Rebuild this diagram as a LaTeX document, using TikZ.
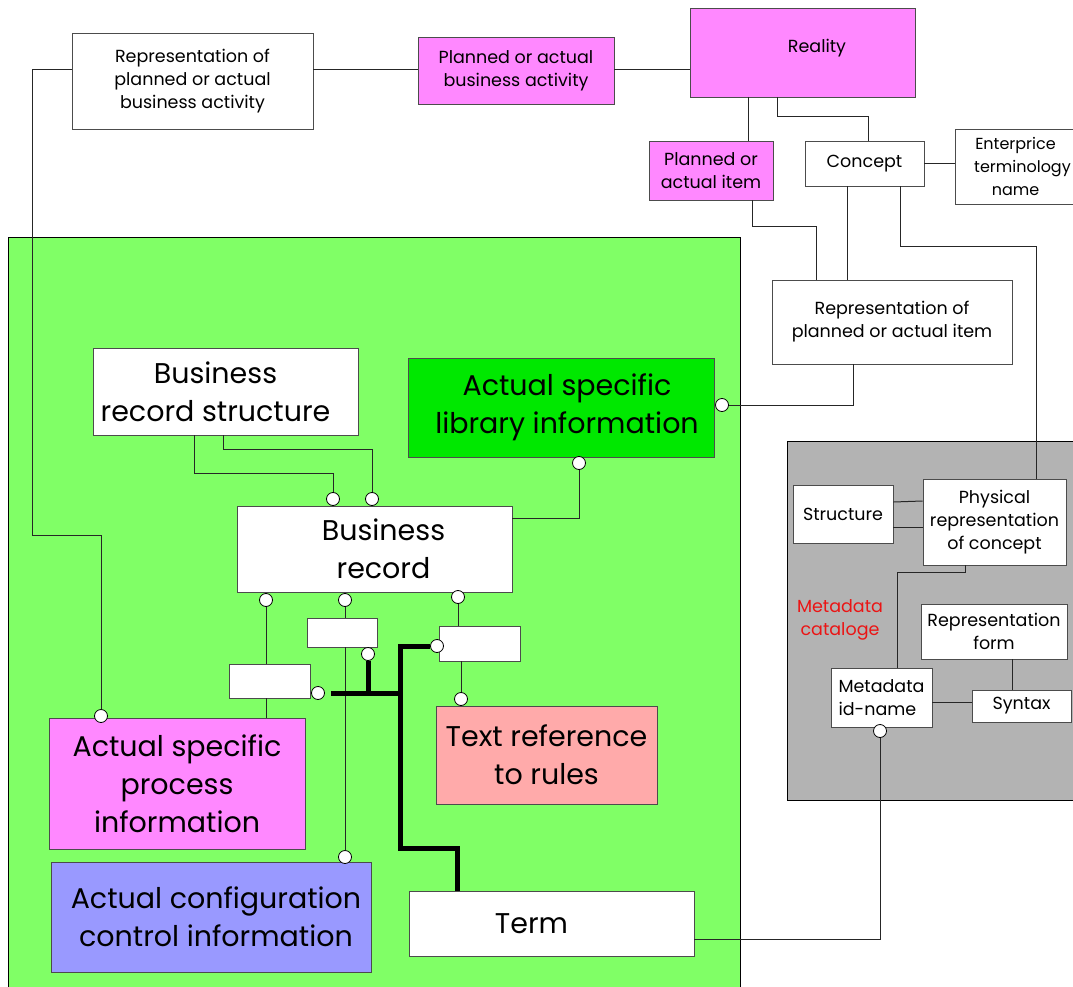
\documentclass[tikz,border=0pt]{standalone}
\usepackage{fontspec}
\setmainfont{Poppins}
\usetikzlibrary{calc}
\definecolor{magbox}{RGB}{255,136,255}
\definecolor{greenbg}{RGB}{128,255,102}
\definecolor{libgreen}{RGB}{0,232,0}
\definecolor{salmonbox}{RGB}{255,170,170}
\definecolor{bluebox}{RGB}{153,153,255}
\definecolor{graybg}{RGB}{179,179,179}
\definecolor{redtext}{RGB}{235,20,20}
\newcommand\smallf{\fontsize{17.5}{23}\selectfont}
\newcommand\bigf{\fontsize{28.5}{38}\selectfont}
\begin{document}
\begin{tikzpicture}[x=1pt,y=-1pt,
  box/.style={draw=black!70, line width=0.8pt, fill=white, inner sep=0pt, align=center, font=\smallf},
  bigbox/.style={box, font=\bigf},
  wire/.style={draw=black!85, line width=1pt},
  thickw/.style={draw=black, line width=5pt},
  dot/.style={circle, draw=black, fill=white, minimum size=13pt, inner sep=0pt, line width=0.8pt},
  region/.style={draw=black, line width=0.8pt}]
\useasboundingbox (0,0) rectangle (1073,987);
\fill[white] (0,0) rectangle (1073,987);
% regions
\path[region, fill=greenbg] (8,237) rectangle (740,1000);
\path[region, fill=graybg] (787,441) rectangle (1090,800);
% top nodes
\node[box, minimum width=241pt, minimum height=96pt] (rpb) at (192.5,81) {Representation of\\planned or actual\\business activity};
\node[box, fill=magbox, minimum width=196pt, minimum height=67pt] (pba) at (516,70.5) {Planned or actual\\business activity};
\node[box, fill=magbox, minimum width=225pt, minimum height=89pt] (reality) at (802.5,52.5) {};
\node[font=\smallf, inner sep=0pt] (realitytext) at (817,48) {Reality};
\node[box, fill=magbox, minimum width=124pt, minimum height=59pt] (pitem) at (711,170.5) {Planned or\\actual item};
\node[box, minimum width=119pt, minimum height=45pt] (concept) at (864.5,163.5) {Concept};
\node[box, minimum width=135pt, minimum height=75pt, font=\fontsize{16}{23}\selectfont] (etn) at (1022.5,166.5) {Enterprice\hspace*{14pt}\\terminology\hspace*{14pt}\\name\hspace*{14pt}};
\node[box, minimum width=240pt, minimum height=84pt] (rpi) at (892,322) {Representation of\\planned or actual item};
% green region nodes
\node[bigbox, minimum width=265pt, minimum height=87pt] (brs) at (225.5,391.5) {Business\hspace*{20pt}\\record structure\hspace*{20pt}};
\node[bigbox, fill=libgreen, minimum width=306pt, minimum height=99pt] (lib) at (561,407.5) {\hspace*{12pt}Actual specific\\\hspace*{12pt}library information};
\node[bigbox, minimum width=275pt, minimum height=86pt] (br) at (374.5,549) {\hspace*{18pt}Business\\\hspace*{18pt}record};
\node[box, minimum width=81pt, minimum height=34pt] (boxA) at (269.5,681) {};
\node[box, minimum width=70pt, minimum height=29pt] (boxB) at (342,632.5) {};
\node[box, minimum width=81pt, minimum height=35pt] (boxC) at (479.5,643.5) {};
\node[bigbox, fill=magbox, minimum width=256pt, minimum height=131pt] (proc) at (177,783.5) {Actual specific\\process\\information};
\node[bigbox, fill=salmonbox, minimum width=221pt, minimum height=98pt] (trr) at (546.5,755) {Text reference\\to rules};
\node[bigbox, fill=bluebox, minimum width=320pt, minimum height=110pt] (cfg) at (211,917) {\hspace*{10pt}Actual configuration\\\hspace*{10pt}control information};
\node[bigbox, minimum width=285pt, minimum height=65pt] (term) at (551.5,923.5) {\raisebox{-6pt}{Term}\hspace*{40pt}};
% gray region nodes
\node[box, minimum width=100pt, minimum height=58pt] (struct) at (843,514) {Structure};
\node[box, minimum width=143pt, minimum height=86pt] (phys) at (994.5,522) {Physical\\representation\\of concept};
\node[font=\smallf, text=redtext, align=center, inner sep=0pt] (mcat) at (840,620) {Metadata\\cataloge};
\node[box, minimum width=146pt, minimum height=55pt] (rform) at (994,631.5) {Representation\\form};
\node[box, align=left, minimum width=101pt, minimum height=59pt] (mid) at (881.5,697.5) {Metadata\\id-name};
\node[box, minimum width=99pt, minimum height=32pt] (syntax) at (1021.5,706) {Syntax};
% dots
\node[dot] (d1) at (333,499) {};
\node[dot] (d2) at (372,499) {};
\node[dot] (d3) at (579,463) {};
\node[dot] (d4) at (266,600) {};
\node[dot] (d5) at (345,600) {};
\node[dot] (d6) at (458,597) {};
\node[dot] (d7) at (368,654) {};
\node[dot] (d8) at (318,693) {};
\node[dot] (d9) at (437,646) {};
\node[dot] (d10) at (461,699) {};
\node[dot] (d11) at (345,857) {};
\node[dot] (d12) at (722,405) {};
\node[dot] (d13) at (101,716) {};
\node[dot] (d14) at (880,731) {};
% top connectors
\draw[wire] (rpb.east |- 0,70) -- (pba.west |- 0,70);
\draw[wire] (pba.east |- 0,70) -- (reality.west |- 0,70);
\draw[wire] (rpb.west |- 0,70) -- (32,70) -- (32,535) -| (d13.north);
\draw[wire] (748,0 |- reality.south) -- (748,0 |- pitem.north);
\draw[wire] (777,0 |- reality.south) -- (777,117) -| (868,0 |- concept.north);
\draw[wire] (concept.east) -- (concept.east -| etn.west);
\draw[wire] (752,0 |- pitem.south) -- (752,226) -| (816,0 |- rpi.north);
\draw[wire] (847,0 |- concept.south) -- (847,0 |- rpi.north);
\draw[wire] (900,0 |- concept.south) -- (900,246) -| (1036,0 |- phys.north);
\draw[wire] (853,0 |- rpi.south) |- (d12.east);
% green connectors
\draw[wire] (194,0 |- brs.south) -- (194,473) -| (d1.north);
\draw[wire] (223,0 |- brs.south) -- (223,449) -| (d2.north);
\draw[wire] (br.east |- 0,518) -| (d3.south);
\draw[wire] (d4.south) -- (d4.south |- boxA.north);
\draw[wire] (266,0 |- boxA.south) -- (266,0 |- proc.north);
\draw[wire] (d5.south) -- (d5.south |- boxB.north);
\draw[wire] (d11.north |- boxB.south) -- (d11.north);
\draw[wire] (d6.south) -- (d6.south |- boxC.north);
\draw[wire] (d10.north |- boxC.south) -- (d10.north);
\draw[thickw] ($(d8.east)+(6,0)$) -- (402,0 |- d8.east);
\draw[thickw] (d7.south) -- (d7.south |- d8.east);
\draw[thickw] (d9.west) -| (400,848) -| (457,0 |- term.north);
% gray connectors
\draw[wire] (term.east |- 0,939) -| (d14.south);
\draw[wire] (struct.east |- 0,502) -- (phys.west |- 0,501);
\draw[wire] (struct.east |- 0,527) -- (phys.west |- 0,527);
\draw[wire] (965,0 |- phys.south) -- (965,572) -| (897,0 |- mid.north);
\draw[wire] (mid.east |- 0,702) -- (syntax.west |- 0,702);
\draw[wire] (1012,0 |- rform.south) -- (1012,0 |- syntax.north);
\end{tikzpicture}
\end{document}
